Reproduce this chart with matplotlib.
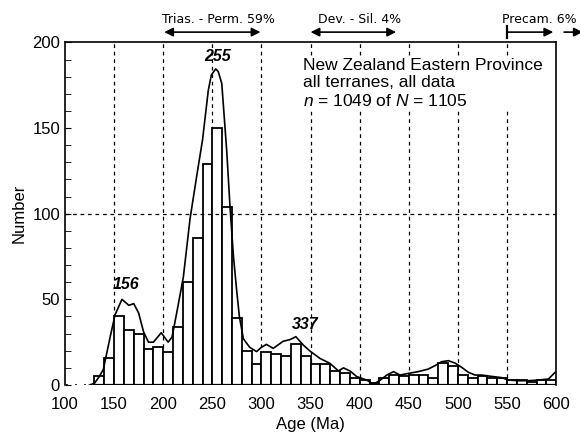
import numpy as np
import matplotlib
matplotlib.use('Agg')
import matplotlib.pyplot as plt

plt.rcParams['font.family'] = ['Liberation Sans', 'DejaVu Sans']
plt.rcParams['mathtext.fontset'] = 'custom'
plt.rcParams['mathtext.rm'] = 'Liberation Sans'
plt.rcParams['mathtext.it'] = 'Liberation Sans:italic'

# histogram: 10 Ma bins starting at 130 Ma
bin_left = np.arange(130, 600, 10)
counts = [5, 16, 40, 32, 30, 21, 22, 19, 34, 60,
          86, 129, 150, 104, 39, 20, 12, 19, 18, 17,
          24, 17, 12, 12, 8, 7, 4, 3, 1, 4,
          6, 5, 6, 6, 4, 13, 11, 6, 4, 5,
          4, 4, 3, 3, 2, 3, 3]

# probability density curve (scaled to counts)
pdp_age = [125, 130, 135, 139, 146, 151, 158, 165, 170, 175,
           180, 185, 190, 198, 205, 209, 213.7, 220.5, 227.3, 234.1,
           240, 245.9, 249, 253.4, 256, 259.6, 264.6, 268, 271.5, 274.8,
           277.5, 281.6, 288, 295, 300, 305, 312, 322, 329, 335,
           342.6, 349.4, 359.6, 369.8, 378.3, 383.4, 390, 397, 407, 414,
           421, 427.6, 434.4, 441, 449.7, 459.6, 469.8, 476.6, 483.4, 490.2,
           497, 503.8, 510.6, 517.4, 524.2, 534.4, 544.5, 551.3, 561.5, 571.7,
           581.9, 592.1, 598.9]
pdp_val = [0, 1, 5, 9, 28, 41, 50, 46.5, 47.5, 42,
           31, 25, 25, 30.5, 25, 28, 42, 63, 97, 122,
           143, 172, 181, 184.5, 183, 176, 137, 104, 75, 55,
           40, 27, 22, 19.5, 22, 23.7, 21.4, 25.5, 26.5, 28.2,
           23.3, 19.8, 15.5, 12.6, 8.2, 10, 8.2, 4.9, 2.9, 0.4,
           2.9, 5.8, 7.8, 5.8, 6.8, 7.8, 9.3, 11.3, 13.6, 14.2,
           12.8, 10.3, 7.4, 5.8, 5.8, 5, 4.3, 2.9, 2.5, 2.5,
           2.9, 3.5, 7.4]

peaks = [156, 255, 337]
label_x = [162, 255.5, 344]
label_y = [54.5, 187.5, 31]

fig = plt.figure(figsize=(5.8, 4.37), dpi=100)
ax = fig.add_axes([0.112, 0.119, 0.847, 0.784])

for x in range(150, 600, 50):
    ax.axvline(x, color='k', ls=(0, (3, 3)), lw=0.9, zorder=1)

ax.bar(bin_left, counts, width=10, align='edge', color='white',
       edgecolor='k', linewidth=1.3, zorder=2)
ax.axhline(100, color='k', ls=(0, (3, 3)), lw=0.9, zorder=3)
ax.plot(pdp_age, pdp_val, 'k-', lw=1.2, zorder=4)
ax.plot([130, 600], [0, 0], 'k-', lw=1.6, zorder=5)
ax.plot([101, 127], [0, 0], 'k', ls=(0, (1, 4)), lw=1.3, zorder=5)

for p, lx, ly in zip(peaks, label_x, label_y):
    ax.text(lx, ly, str(p), ha='center', va='bottom', fontsize=11.5,
            fontweight='bold', fontstyle='italic')

ax.text(342, 191, 'New Zealand Eastern Province\nall terranes, all data\n'
        r'$n$ = 1049 of $N$ = 1105', ha='left', va='top', fontsize=12.5,
        linespacing=1.2, zorder=6,
        bbox=dict(facecolor='white', edgecolor='none', pad=1))

# stratigraphic ranges above the plot
xtr = ax.get_xaxis_transform()
arrow_y = 1.03
text_y = 1.066
top_kw = dict(fontsize=9, family='DejaVu Sans', ha='center', va='center',
              transform=xtr, clip_on=False)


def range_arrow(x0, x1, style='<|-|>'):
    ax.annotate('', xy=(x1, arrow_y), xytext=(x0, arrow_y), xycoords=xtr,
                arrowprops=dict(arrowstyle=style, color='k', lw=1.2,
                                mutation_scale=13, shrinkA=0, shrinkB=0),
                annotation_clip=False)


range_arrow(201, 299)
ax.text(256, text_y, 'Trias. - Perm. 59%', **top_kw)
range_arrow(350, 437)
ax.text(400, text_y, 'Dev. - Sil. 4%', **top_kw)
range_arrow(550, 597, '-|>')
ax.plot([550, 550], [arrow_y - 0.018, arrow_y + 0.018], 'k-', lw=1.6,
        transform=xtr, clip_on=False)
range_arrow(608, 627, '-|>')
ax.text(583, text_y, 'Precam. 6%', **top_kw)

ax.set_xlim(100, 600)
ax.set_ylim(0, 200)
ax.set_xticks(range(100, 601, 50))
ax.set_yticks(range(0, 201, 50))
ax.set_yticks(range(0, 201, 10), minor=True)
ax.tick_params(axis='x', length=0, labelsize=12, pad=9)
ax.tick_params(axis='y', which='both', direction='in', length=4, labelsize=12)
ax.spines['bottom'].set_visible(False)
for s in ['left', 'top', 'right']:
    ax.spines[s].set_linewidth(1.2)

ax.set_xlabel('Age (Ma)', fontsize=12, labelpad=3)
ax.set_ylabel('Number', fontsize=12, labelpad=4)

fig.savefig('out.png', dpi=100)
